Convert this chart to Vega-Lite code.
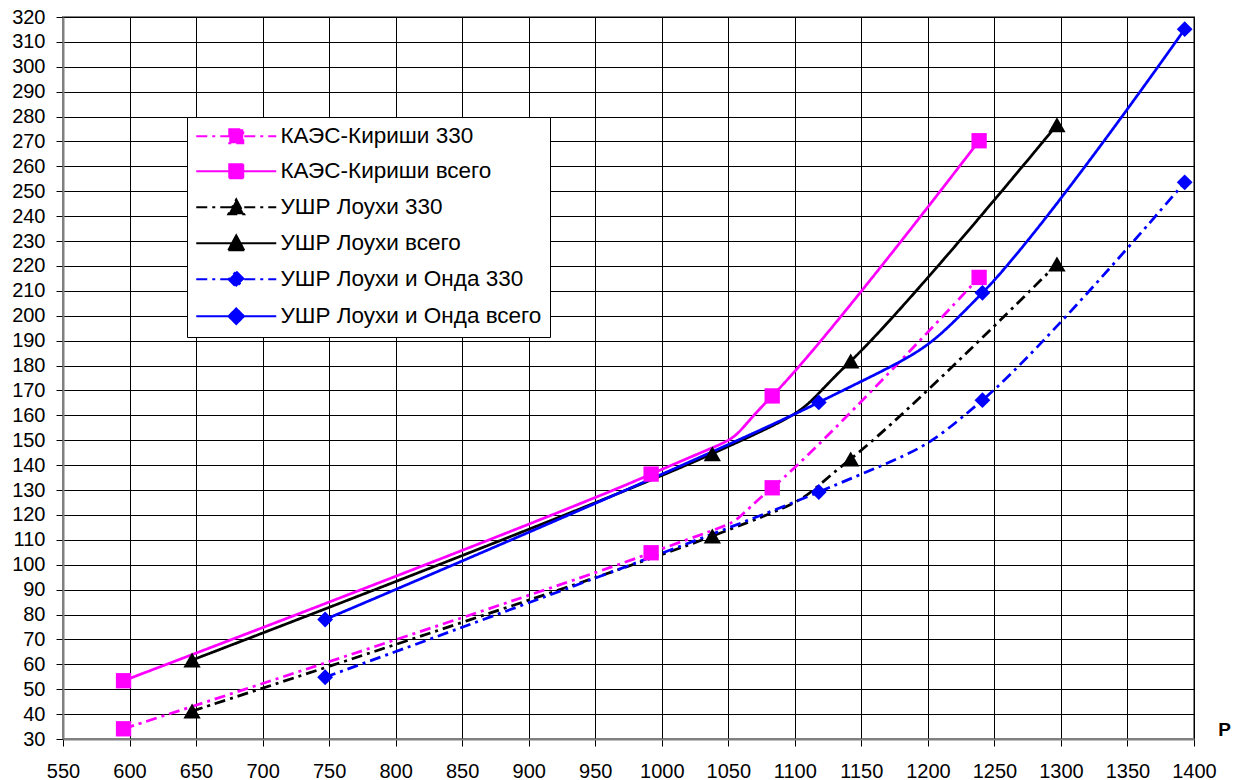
{
  "$schema": "https://vega.github.io/schema/vega-lite/v6.json",
  "width": 1131,
  "height": 722,
  "autosize": {"type": "none"},
  "padding": {"left": 63, "top": 17, "right": 44, "bottom": 41},
  "background": "white",
  "config": {
    "view": {"stroke": "#808080", "strokeWidth": 2},
    "font": "Liberation Sans"
  },
  "data": {
    "values": [
      {"series": "КАЭС-Кириши 330", "kind": "square", "P": 595.5, "v": 34.1},
      {"series": "КАЭС-Кириши 330", "kind": "square", "P": 992, "v": 104.8},
      {"series": "КАЭС-Кириши 330", "kind": "square", "P": 1083, "v": 130.9},
      {"series": "КАЭС-Кириши 330", "kind": "square", "P": 1238.5, "v": 215.4},
      {"series": "КАЭС-Кириши всего", "kind": "square", "P": 595.5, "v": 53.4},
      {"series": "КАЭС-Кириши всего", "kind": "square", "P": 992, "v": 136.4},
      {"series": "КАЭС-Кириши всего", "kind": "square", "P": 1083, "v": 167.8},
      {"series": "КАЭС-Кириши всего", "kind": "square", "P": 1238.5, "v": 270.3},
      {"series": "УШР Лоухи 330", "kind": "triangle", "P": 647, "v": 41.2},
      {"series": "УШР Лоухи 330", "kind": "triangle", "P": 1038, "v": 111.5},
      {"series": "УШР Лоухи 330", "kind": "triangle", "P": 1142, "v": 142.5},
      {"series": "УШР Лоухи 330", "kind": "triangle", "P": 1297, "v": 220.8},
      {"series": "УШР Лоухи всего", "kind": "triangle", "P": 647, "v": 61.7},
      {"series": "УШР Лоухи всего", "kind": "triangle", "P": 1038, "v": 144.6},
      {"series": "УШР Лоухи всего", "kind": "triangle", "P": 1142, "v": 181.8},
      {"series": "УШР Лоухи всего", "kind": "triangle", "P": 1297, "v": 276.7},
      {"series": "УШР Лоухи и Онда 330", "kind": "diamond", "P": 747, "v": 54.8},
      {"series": "УШР Лоухи и Онда 330", "kind": "diamond", "P": 1118, "v": 129.2},
      {"series": "УШР Лоухи и Онда 330", "kind": "diamond", "P": 1241, "v": 166.1},
      {"series": "УШР Лоухи и Онда 330", "kind": "diamond", "P": 1393, "v": 253.6},
      {"series": "УШР Лоухи и Онда всего", "kind": "diamond", "P": 747, "v": 78},
      {"series": "УШР Лоухи и Онда всего", "kind": "diamond", "P": 1118, "v": 165.2},
      {"series": "УШР Лоухи и Онда всего", "kind": "diamond", "P": 1241, "v": 209.2},
      {"series": "УШР Лоухи и Онда всего", "kind": "diamond", "P": 1393, "v": 315.1}
    ]
  },
  "encoding": {
    "x": {
      "field": "P",
      "type": "quantitative",
      "scale": {"domain": [550, 1400], "nice": false, "zero": false},
      "axis": {
        "values": [550, 600, 650, 700, 750, 800, 850, 900, 950, 1000, 1050, 1100, 1150, 1200, 1250, 1300, 1350, 1400],
        "format": "d",
        "labelOverlap": false,
        "labelFlush": false,
        "labelFont": "Liberation Sans",
        "labelFontSize": 20,
        "labelColor": "black",
        "labelPadding": 15,
        "labelBaseline": "top",
        "tickColor": "#000000",
        "tickSize": 7,
        "tickWidth": 1,
        "domainColor": "#808080",
        "domainWidth": 2,
        "grid": true,
        "gridColor": "#000000",
        "gridWidth": 1,
        "title": "P",
        "titleFont": "Liberation Sans",
        "titleFontSize": 19,
        "titleFontWeight": "bold",
        "titleColor": "black",
        "titleX": 1161,
        "titleY": -10,
        "titleAlign": "center",
        "titleBaseline": "middle",
        "titleAnchor": null
      }
    },
    "y": {
      "field": "v",
      "type": "quantitative",
      "scale": {"domain": [30, 320], "nice": false, "zero": false},
      "axis": {
        "values": [30, 40, 50, 60, 70, 80, 90, 100, 110, 120, 130, 140, 150, 160, 170, 180, 190, 200, 210, 220, 230, 240, 250, 260, 270, 280, 290, 300, 310, 320],
        "format": "d",
        "labelOverlap": false,
        "labelFlush": false,
        "labelFont": "Liberation Sans",
        "labelFontSize": 20,
        "labelColor": "black",
        "labelPadding": 11,
        "tickColor": "#000000",
        "tickSize": 7,
        "tickWidth": 1,
        "domainColor": "#808080",
        "domainWidth": 2,
        "grid": true,
        "gridColor": "#000000",
        "gridWidth": 1,
        "title": null
      }
    },
    "color": {
      "field": "series",
      "type": "nominal",
      "sort": null,
      "scale": {
        "domain": ["КАЭС-Кириши 330", "КАЭС-Кириши всего", "УШР Лоухи 330", "УШР Лоухи всего", "УШР Лоухи и Онда 330", "УШР Лоухи и Онда всего"],
        "range": ["#FF00FF", "#FF00FF", "#000000", "#000000", "#0000FF", "#0000FF"]
      },
      "legend": {
        "title": null,
        "orient": "none",
        "legendX": 124,
        "legendY": 100,
        "padding": 8,
        "strokeColor": "black",
        "fillColor": "white",
        "labelFont": "Liberation Sans",
        "labelFontSize": 22.5,
        "labelColor": "black",
        "labelLimit": 400,
        "symbolSize": 400,
        "symbolStrokeWidth": 2,
        "rowPadding": 12,
        "labelOffset": 63,
        "encode": {
          "symbols": {
            "update": {
              "shape": {"signal": "indexof(datum.value,'КАЭС')>=0 ? 'M-1,0H7M2.3,-0.7H3.7V0.7H2.3Z' : (indexof(datum.value,'Онда')>=0 ? 'M-1,0H7M3,-0.78L3.78,0L3,0.78L2.22,0Z' : 'M-1,0H7M3,-0.8L3.8,0.7H2.2Z')"},
              "fill": {"scale": "color", "field": "value"},
              "stroke": {"scale": "color", "field": "value"},
              "strokeDash": {"signal": "indexof(datum.value,'330')>=0 ? [13,11] : [1,0]"},
              "size": {"value": 400},
              "strokeWidth": {"value": 2},
              "opacity": {"value": 1},
              "fillOpacity": {"value": 1}
            }
          }
        }
      }
    }
  },
  "layer": [
    {
      "mark": {"type": "line", "interpolate": "cardinal", "tension": 0, "strokeWidth": 2.75},
      "encoding": {
        "strokeDash": {
          "field": "series",
          "type": "nominal",
          "scale": {
            "domain": ["КАЭС-Кириши 330", "КАЭС-Кириши всего", "УШР Лоухи 330", "УШР Лоухи всего", "УШР Лоухи и Онда 330", "УШР Лоухи и Онда всего"],
            "range": [[11, 5, 3, 5], [1, 0], [11, 5, 3, 5], [1, 0], [11, 5, 3, 5], [1, 0]]
          },
          "legend": null
        }
      }
    },
    {
      "transform": [{"filter": "datum.kind == 'square'"}],
      "mark": {"type": "point", "shape": "square", "filled": true, "opacity": 1, "size": 235}
    },
    {
      "transform": [{"filter": "datum.kind == 'triangle'"}],
      "mark": {"type": "point", "shape": "triangle-up", "filled": true, "opacity": 1, "size": 300}
    },
    {
      "transform": [{"filter": "datum.kind == 'diamond'"}],
      "mark": {"type": "point", "shape": "diamond", "filled": true, "opacity": 1, "size": 250}
    }
  ]
}
